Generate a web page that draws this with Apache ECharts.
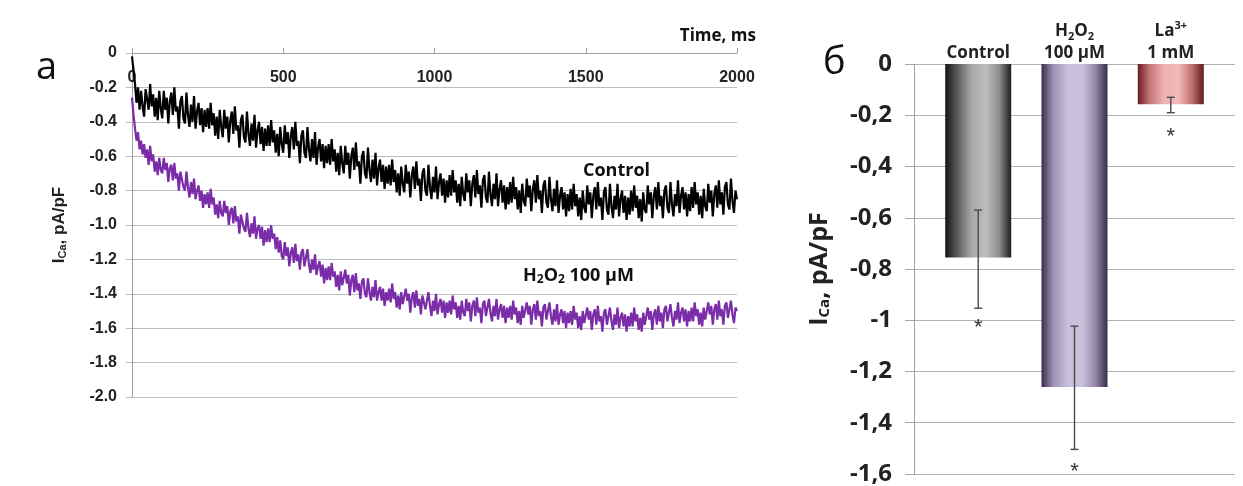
<!DOCTYPE html>
<html>
<head>
<meta charset="utf-8">
<script src="https://cdn.jsdelivr.net/npm/echarts@6/dist/echarts.min.js"></script>
<style>
html,body{margin:0;padding:0;background:#fff;}
#c{width:1243px;height:486px;}
</style>
</head>
<body>
<div id="c"></div>
<script>
// ---------- Panel a: current traces (sampled every 5 ms, one row = 50 ms) ----------
const timeStepMs = 5;
const timeTicks = [0, 500, 1000, 1500, 2000];
const currentTicks = [0, -0.2, -0.4, -0.6, -0.8, -1.0, -1.2, -1.4, -1.6, -1.8, -2.0];

const controlTrace = [
  -0.02, -0.10, -0.18, -0.29, -0.20, -0.33, -0.22, -0.31, -0.37, -0.21,
  -0.21, -0.33, -0.18, -0.31, -0.24, -0.37, -0.26, -0.39, -0.22, -0.32,
  -0.38, -0.22, -0.33, -0.26, -0.41, -0.28, -0.23, -0.36, -0.20, -0.34,
  -0.31, -0.44, -0.28, -0.25, -0.38, -0.41, -0.23, -0.36, -0.43, -0.30,
  -0.40, -0.25, -0.44, -0.34, -0.29, -0.42, -0.32, -0.46, -0.33, -0.43,
  -0.32, -0.44, -0.29, -0.42, -0.35, -0.48, -0.37, -0.50, -0.33, -0.43,
  -0.49, -0.33, -0.44, -0.37, -0.52, -0.39, -0.34, -0.47, -0.31, -0.45,
  -0.42, -0.55, -0.39, -0.36, -0.49, -0.52, -0.34, -0.47, -0.54, -0.41,
  -0.51, -0.36, -0.55, -0.45, -0.40, -0.53, -0.43, -0.57, -0.44, -0.54,
  -0.42, -0.54, -0.39, -0.52, -0.45, -0.58, -0.47, -0.60, -0.43, -0.53,
  -0.58, -0.42, -0.53, -0.46, -0.61, -0.48, -0.43, -0.56, -0.40, -0.54,
  -0.51, -0.64, -0.48, -0.45, -0.58, -0.61, -0.43, -0.56, -0.63, -0.50,
  -0.61, -0.46, -0.65, -0.55, -0.50, -0.63, -0.53, -0.67, -0.54, -0.64,
  -0.53, -0.65, -0.50, -0.63, -0.56, -0.69, -0.58, -0.71, -0.54, -0.64,
  -0.70, -0.54, -0.65, -0.58, -0.73, -0.60, -0.55, -0.68, -0.52, -0.66,
  -0.63, -0.76, -0.60, -0.57, -0.70, -0.73, -0.55, -0.68, -0.75, -0.62,
  -0.73, -0.58, -0.77, -0.67, -0.62, -0.75, -0.65, -0.79, -0.66, -0.76,
  -0.65, -0.77, -0.62, -0.75, -0.68, -0.81, -0.70, -0.83, -0.66, -0.76,
  -0.81, -0.65, -0.76, -0.69, -0.84, -0.71, -0.66, -0.79, -0.63, -0.77,
  -0.73, -0.86, -0.70, -0.67, -0.80, -0.83, -0.65, -0.78, -0.85, -0.72,
  -0.81, -0.66, -0.85, -0.75, -0.70, -0.83, -0.73, -0.87, -0.74, -0.84,
  -0.71, -0.83, -0.68, -0.81, -0.74, -0.87, -0.76, -0.89, -0.72, -0.82,
  -0.86, -0.70, -0.81, -0.74, -0.89, -0.76, -0.71, -0.84, -0.68, -0.82,
  -0.77, -0.90, -0.74, -0.71, -0.84, -0.87, -0.69, -0.82, -0.89, -0.76,
  -0.85, -0.70, -0.89, -0.79, -0.74, -0.87, -0.77, -0.91, -0.78, -0.88,
  -0.75, -0.87, -0.72, -0.85, -0.78, -0.91, -0.80, -0.93, -0.76, -0.86,
  -0.89, -0.73, -0.84, -0.77, -0.92, -0.79, -0.74, -0.87, -0.71, -0.85,
  -0.80, -0.93, -0.77, -0.74, -0.87, -0.90, -0.72, -0.85, -0.92, -0.79,
  -0.89, -0.74, -0.93, -0.83, -0.78, -0.91, -0.81, -0.95, -0.82, -0.92,
  -0.79, -0.91, -0.76, -0.89, -0.82, -0.95, -0.84, -0.97, -0.80, -0.90,
  -0.93, -0.77, -0.88, -0.81, -0.96, -0.83, -0.78, -0.91, -0.75, -0.89,
  -0.84, -0.97, -0.81, -0.78, -0.91, -0.94, -0.76, -0.89, -0.96, -0.83,
  -0.91, -0.76, -0.95, -0.85, -0.80, -0.93, -0.83, -0.97, -0.84, -0.94,
  -0.80, -0.92, -0.77, -0.90, -0.83, -0.96, -0.85, -0.98, -0.81, -0.91,
  -0.93, -0.77, -0.88, -0.81, -0.96, -0.83, -0.78, -0.91, -0.75, -0.89,
  -0.83, -0.96, -0.80, -0.77, -0.90, -0.93, -0.75, -0.88, -0.95, -0.82,
  -0.89, -0.74, -0.93, -0.83, -0.78, -0.91, -0.81, -0.95, -0.82, -0.92,
  -0.78, -0.90, -0.75, -0.88, -0.81, -0.94, -0.83, -0.96, -0.79, -0.89,
  -0.92, -0.76, -0.87, -0.80, -0.95, -0.82, -0.77, -0.90, -0.74, -0.88,
  -0.81, -0.94, -0.78, -0.75, -0.88, -0.91, -0.73, -0.86, -0.93, -0.80,
  -0.85
];

const h2o2Trace = [
  -0.26, -0.36, -0.44, -0.51, -0.46, -0.56, -0.51, -0.59, -0.53, -0.61,
  -0.56, -0.65, -0.54, -0.63, -0.59, -0.69, -0.63, -0.71, -0.61, -0.68,
  -0.70, -0.61, -0.68, -0.64, -0.75, -0.67, -0.65, -0.74, -0.64, -0.73,
  -0.70, -0.80, -0.69, -0.68, -0.78, -0.80, -0.69, -0.78, -0.84, -0.75,
  -0.82, -0.73, -0.85, -0.80, -0.77, -0.86, -0.80, -0.90, -0.82, -0.88,
  -0.81, -0.90, -0.79, -0.88, -0.84, -0.94, -0.88, -0.96, -0.86, -0.93,
  -0.95, -0.86, -0.93, -0.89, -1.00, -0.92, -0.90, -0.99, -0.89, -0.98,
  -0.95, -1.05, -0.94, -0.93, -1.02, -1.04, -0.93, -1.02, -1.07, -0.99,
  -1.05, -0.95, -1.08, -1.02, -1.00, -1.08, -1.01, -1.12, -1.03, -1.10,
  -1.02, -1.10, -1.00, -1.08, -1.05, -1.14, -1.07, -1.16, -1.09, -1.18,
  -1.20, -1.10, -1.18, -1.13, -1.24, -1.16, -1.13, -1.22, -1.11, -1.21,
  -1.17, -1.26, -1.16, -1.14, -1.24, -1.25, -1.14, -1.23, -1.28, -1.20,
  -1.26, -1.17, -1.29, -1.24, -1.21, -1.30, -1.23, -1.34, -1.25, -1.32,
  -1.24, -1.32, -1.22, -1.30, -1.27, -1.36, -1.29, -1.38, -1.27, -1.35,
  -1.36, -1.26, -1.34, -1.29, -1.41, -1.32, -1.29, -1.39, -1.28, -1.38,
  -1.34, -1.43, -1.33, -1.31, -1.40, -1.42, -1.31, -1.39, -1.44, -1.36,
  -1.42, -1.32, -1.44, -1.39, -1.36, -1.44, -1.37, -1.47, -1.39, -1.44,
  -1.37, -1.45, -1.34, -1.43, -1.39, -1.48, -1.41, -1.49, -1.39, -1.46,
  -1.47, -1.37, -1.44, -1.40, -1.51, -1.42, -1.39, -1.48, -1.38, -1.47,
  -1.43, -1.52, -1.41, -1.40, -1.49, -1.50, -1.39, -1.47, -1.53, -1.44,
  -1.50, -1.40, -1.52, -1.46, -1.43, -1.51, -1.44, -1.54, -1.45, -1.51,
  -1.44, -1.52, -1.41, -1.49, -1.45, -1.54, -1.47, -1.55, -1.44, -1.51,
  -1.53, -1.43, -1.50, -1.45, -1.56, -1.47, -1.44, -1.53, -1.42, -1.51,
  -1.48, -1.57, -1.46, -1.44, -1.53, -1.54, -1.43, -1.51, -1.56, -1.47,
  -1.53, -1.43, -1.55, -1.49, -1.46, -1.54, -1.47, -1.57, -1.48, -1.54,
  -1.47, -1.55, -1.44, -1.52, -1.48, -1.57, -1.50, -1.58, -1.47, -1.54,
  -1.55, -1.45, -1.52, -1.47, -1.58, -1.49, -1.46, -1.55, -1.44, -1.53,
  -1.50, -1.59, -1.48, -1.46, -1.55, -1.56, -1.45, -1.53, -1.58, -1.49,
  -1.56, -1.46, -1.58, -1.52, -1.49, -1.57, -1.50, -1.60, -1.51, -1.57,
  -1.50, -1.58, -1.47, -1.55, -1.51, -1.60, -1.53, -1.61, -1.50, -1.57,
  -1.58, -1.48, -1.55, -1.50, -1.61, -1.52, -1.49, -1.58, -1.47, -1.56,
  -1.53, -1.62, -1.51, -1.49, -1.58, -1.59, -1.48, -1.56, -1.61, -1.52,
  -1.58, -1.48, -1.60, -1.54, -1.51, -1.59, -1.52, -1.62, -1.53, -1.59,
  -1.51, -1.59, -1.48, -1.56, -1.52, -1.61, -1.54, -1.62, -1.51, -1.58,
  -1.58, -1.48, -1.55, -1.50, -1.61, -1.52, -1.49, -1.58, -1.47, -1.56,
  -1.51, -1.60, -1.49, -1.47, -1.56, -1.57, -1.46, -1.54, -1.59, -1.50,
  -1.55, -1.45, -1.57, -1.51, -1.48, -1.56, -1.49, -1.59, -1.50, -1.56,
  -1.48, -1.56, -1.45, -1.53, -1.49, -1.58, -1.51, -1.59, -1.48, -1.55,
  -1.55, -1.45, -1.52, -1.47, -1.58, -1.49, -1.46, -1.55, -1.44, -1.53,
  -1.49, -1.58, -1.47, -1.45, -1.54, -1.55, -1.44, -1.52, -1.57, -1.48,
  -1.50
];

// ---------- Panel б: mean current amplitudes ----------
const barCategories = ['Control', 'H2O2 100 µM', 'La3+ 1 mM'];
const barValues = [-0.755, -1.26, -0.157];
const errorLow = [-0.953, -1.504, -0.19];
const errorHigh = [-0.57, -1.023, -0.13];
const asteriskY = [-1.01, -1.574, -0.266];
const barTicks = [0, -0.2, -0.4, -0.6, -0.8, -1, -1.2, -1.4, -1.6];

// slot positions on a category axis (11 slots, bars on slots 2, 5, 8)
const slotCount = 11;
const barSlots = [2, 5, 8];

const barLabelRich = [
  '{b|Control}',
  '{b|H}{s|2}{b|O}{s|2}\n{b|100 µM}',
  '{b|La}{p|3+}\n{b|1 mM}'
];

const gradients = [
  ['#151515', '#5a5a5a', '#a8a8a8', '#bdbdbd', '#8c8c8c', '#1c1c1c'],
  ['#3a2c4c', '#9f92b4', '#c9bedb', '#cbc0dc', '#9385a8', '#3a2c4c'],
  ['#6a1c1c', '#c57878', '#f0b2b2', '#f2b8b8', '#c06f6f', '#641a1a']
];
function grad(cols) {
  const stops = [0, 0.18, 0.4, 0.62, 0.82, 1];
  return new echarts.graphic.LinearGradient(0, 0, 1, 0,
    cols.map((c, i) => ({ offset: stops[i], color: c })));
}

const slotNames = [];
for (let i = 0; i < slotCount; i++) {
  const k = barSlots.indexOf(i);
  slotNames.push(k >= 0 ? barCategories[k] : 's' + i);
}
const barData = slotNames.map((n, i) => {
  const k = barSlots.indexOf(i);
  if (k < 0) return '-';
  return { value: barValues[k], itemStyle: { color: grad(gradients[k]) } };
});
const errData = barSlots.map((s, k) => [s, errorLow[k], errorHigh[k], asteriskY[k]]);

const time = controlTrace.map((_, i) => i * timeStepMs);

const chart = echarts.init(document.getElementById('c'), null, { renderer: 'canvas' });

const numFont = '"Liberation Sans", Arial, sans-serif';
const calFont = '"Open Sans", "DejaVu Sans", sans-serif';

chart.setOption({
  animation: false,
  backgroundColor: '#ffffff',
  grid: [
    { left: 132, right: 506, top: 53, bottom: 89 },
    { left: 914, right: 8, top: 64, bottom: 12 }
  ],
  xAxis: [
    {
      gridIndex: 0, type: 'value', position: 'top',
      min: timeTicks[0], max: timeTicks[timeTicks.length - 1], interval: 500,
      axisLine: { show: true, lineStyle: { color: '#a0a0a0', width: 1 } },
      axisTick: { show: true, length: 5, lineStyle: { color: '#a0a0a0' } },
      axisLabel: { inside: true, margin: 17, fontFamily: numFont, fontWeight: 'bold', fontSize: 16, color: '#222',
        formatter: v => String(v) },
      splitLine: { show: false }
    },
    {
      gridIndex: 1, type: 'category', position: 'top', data: slotNames, boundaryGap: false,
      axisLine: { show: false }, axisTick: { show: false }, splitLine: { show: false },
      axisLabel: {
        interval: 0, margin: 0,
        formatter: (v, i) => { const k = barSlots.indexOf(i); return k >= 0 ? barLabelRich[k] : ''; },
        rich: {
          b: { fontFamily: calFont, fontWeight: 'bold', fontSize: 17, color: '#222', lineHeight: 22 },
          s: { fontFamily: calFont, fontWeight: 'bold', fontSize: 11, color: '#222', lineHeight: 22, verticalAlign: 'bottom', padding: [8, 0, 0, 0] },
          p: { fontFamily: calFont, fontWeight: 'bold', fontSize: 11, color: '#222', lineHeight: 22, verticalAlign: 'top', padding: [0, 0, 8, 0] }
        }
      }
    }
  ],
  yAxis: [
    {
      gridIndex: 0, type: 'value', min: -2, max: 0, interval: 0.2,
      axisLine: { show: true, lineStyle: { color: '#a0a0a0' } },
      axisTick: { show: true, length: 6, lineStyle: { color: '#bbbbbb' } },
      splitLine: { show: true, lineStyle: { color: '#bdbdbd', width: 1 } },
      axisLabel: {
        margin: 15, fontFamily: numFont, fontWeight: 'bold', fontSize: 16, color: '#222',
        formatter: v => (Math.abs(v) < 1e-9 ? '0' : v.toFixed(1))
      },
      name: '{b|I}{s|Ca}{b|, pA/pF}',
      nameLocation: 'middle', nameGap: 64, nameRotate: 90,
      nameTextStyle: {
        rich: {
          b: { fontFamily: numFont, fontWeight: 'bold', fontSize: 17, color: '#222' },
          s: { fontFamily: numFont, fontWeight: 'bold', fontSize: 11, color: '#222', verticalAlign: 'bottom', padding: [6, 0, 0, 0] }
        }
      }
    },
    {
      gridIndex: 1, type: 'value', min: -1.6, max: 0, interval: 0.2,
      axisLine: { show: true, lineStyle: { color: '#a0a0a0' } },
      axisTick: { show: true, length: 9, lineStyle: { color: '#a8a8a8' } },
      splitLine: { show: true, lineStyle: { color: '#b0b0b0', width: 1 } },
      axisLabel: {
        margin: 22, fontFamily: calFont, fontWeight: 'bold', fontSize: 24, color: '#222',
        formatter: v => (Math.abs(v) < 1e-9 ? '0' : String(Math.round(v * 10) / 10).replace('.', ','))
      },
      name: '{b|I}{s|Ca}{b|, pA/pF}',
      nameLocation: 'middle', nameGap: 82, nameRotate: 90,
      nameTextStyle: {
        rich: {
          b: { fontFamily: calFont, fontWeight: 'bold', fontSize: 25, color: '#222' },
          s: { fontFamily: calFont, fontWeight: 'bold', fontSize: 15, color: '#222', verticalAlign: 'bottom', padding: [9, 0, 0, 0] }
        }
      }
    }
  ],
  series: [
    {
      name: 'Control', type: 'line', xAxisIndex: 0, yAxisIndex: 0,
      data: time.map((t, i) => [t, controlTrace[i]]),
      showSymbol: false, symbol: 'none',
      lineStyle: { color: '#000000', width: 2.2 }
    },
    {
      name: 'H2O2 100 µM', type: 'line', xAxisIndex: 0, yAxisIndex: 0,
      data: time.map((t, i) => [t, h2o2Trace[i]]),
      showSymbol: false, symbol: 'none',
      lineStyle: { color: '#7b2ca8', width: 2.2 }
    },
    {
      type: 'bar', xAxisIndex: 1, yAxisIndex: 1,
      data: barData, barWidth: 66
    },
    {
      type: 'custom', xAxisIndex: 1, yAxisIndex: 1,
      data: errData, z: 5,
      renderItem: (params, api) => {
        const x = api.value(0);
        const lo = api.coord([x, api.value(1)]);
        const hi = api.coord([x, api.value(2)]);
        const ast = api.coord([x, api.value(3)]);
        const cap = 4;
        const st = { stroke: '#4a4a4a', lineWidth: 1.4 };
        return {
          type: 'group',
          children: [
            { type: 'line', shape: { x1: lo[0], y1: lo[1], x2: hi[0], y2: hi[1] }, style: st },
            { type: 'line', shape: { x1: lo[0] - cap, y1: lo[1], x2: lo[0] + cap, y2: lo[1] }, style: st },
            { type: 'line', shape: { x1: hi[0] - cap, y1: hi[1], x2: hi[0] + cap, y2: hi[1] }, style: st },
            { type: 'text', x: ast[0], y: ast[1] + 5,
              style: { text: '*', fill: '#333', font: '22px "Liberation Sans", Arial, sans-serif', align: 'center', verticalAlign: 'middle' } }
          ]
        };
      }
    }
  ],
  graphic: [
    { type: 'text', left: 36, top: 49, style: { text: 'a', font: '38px "Open Sans", sans-serif', fill: '#111' } },
    { type: 'text', left: 823, top: 44, style: { text: 'б', font: '38px "Open Sans", sans-serif', fill: '#111' } },
    { type: 'text', right: 1243 - 756, top: 28, style: { text: 'Time, ms', font: 'bold 17px "Open Sans", sans-serif', fill: '#111' } },
    { type: 'text', left: 583, top: 162, style: { text: 'Control', font: 'bold 18px "Open Sans", sans-serif', fill: '#111' } },
    { type: 'text', left: 523, top: 267, style: {
        text: '{b|H}{s|2}{b|O}{s|2}{b| 100 µM}',
        rich: {
          b: { font: 'bold 18px "Open Sans", sans-serif', fill: '#111' },
          s: { font: 'bold 12px "Open Sans", sans-serif', fill: '#111', verticalAlign: 'bottom', padding: [8, 0, 0, 0] }
        }
    } }
  ]
});
</script>
</body>
</html>
